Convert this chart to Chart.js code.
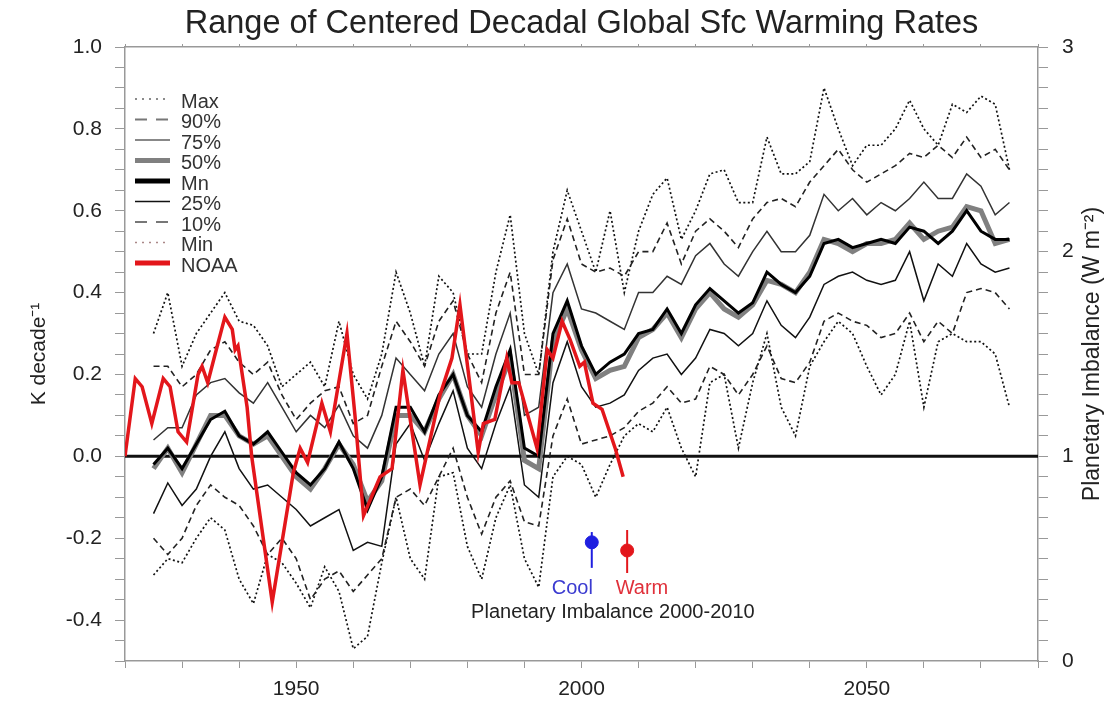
<!DOCTYPE html>
<html>
<head>
<meta charset="utf-8">
<script src="https://cdn.jsdelivr.net/npm/chart.js@4.4.0/dist/chart.umd.min.js"></script>
<style>
  body { margin: 0; background: #fff; }
  #wrap { width: 1110px; height: 711px; }
</style>
</head>
<body>
<div id="wrap"><canvas id="warmingChart" width="1110" height="711"></canvas></div>
<script>
// centre years of the decadal trends (model ensemble)
const modelYears = [
  1925, 1927.5, 1930, 1932.5, 1935, 1937.5, 1940, 1942.5, 1945, 1947.5,
  1950, 1952.5, 1955, 1957.5, 1960, 1962.5, 1965, 1967.5, 1970, 1972.5,
  1975, 1977.5, 1980, 1982.5, 1985, 1987.5, 1990, 1992.5, 1995, 1997.5,
  2000, 2002.5, 2005, 2007.5, 2010, 2012.5, 2015, 2017.5, 2020, 2022.5,
  2025, 2027.5, 2030, 2032.5, 2035, 2037.5, 2040, 2042.5, 2045, 2047.5,
  2050, 2052.5, 2055, 2057.5, 2060, 2062.5, 2065, 2067.5, 2070, 2072.5,
  2075
];

// K per decade
const maxVals = [
  0.30, 0.40, 0.22, 0.30, 0.35, 0.40, 0.33, 0.32, 0.27, 0.17,
  0.20, 0.23, 0.17, 0.33, 0.20, 0.14, 0.25, 0.45, 0.35, 0.22,
  0.44, 0.40, 0.25, 0.25, 0.45, 0.59, 0.30, 0.20, 0.50, 0.65,
  0.55, 0.45, 0.60, 0.40, 0.55, 0.64, 0.68, 0.53, 0.60, 0.69,
  0.70, 0.62, 0.62, 0.78, 0.69, 0.69, 0.72, 0.90, 0.80, 0.71,
  0.76, 0.76, 0.80, 0.87, 0.80, 0.76, 0.86, 0.84, 0.88, 0.86,
  0.70
];
const p90Vals = [
  0.22, 0.22, 0.17, 0.20, 0.26, 0.28, 0.23, 0.20, 0.23, 0.15,
  0.09, 0.13, 0.16, 0.17, 0.08, 0.10, 0.22, 0.33, 0.28, 0.22,
  0.33, 0.38, 0.25, 0.18, 0.35, 0.45, 0.20, 0.20, 0.48, 0.58,
  0.47, 0.45, 0.46, 0.44, 0.50, 0.50, 0.57, 0.47, 0.55, 0.58,
  0.55, 0.51, 0.58, 0.62, 0.63, 0.61, 0.67, 0.71, 0.75, 0.70,
  0.67, 0.69, 0.71, 0.74, 0.73, 0.76, 0.73, 0.78, 0.73, 0.75,
  0.70
];
const p75Vals = [
  0.04, 0.07, 0.07, 0.15, 0.18, 0.19, 0.155, 0.13, 0.18, 0.12,
  0.06, 0.10, 0.07, 0.125, 0.05, 0.02, 0.10, 0.24, 0.20, 0.16,
  0.25, 0.30, 0.17, 0.12, 0.25, 0.35, 0.10, 0.12, 0.40, 0.47,
  0.36, 0.35, 0.33, 0.31, 0.40, 0.40, 0.44, 0.42, 0.49, 0.52,
  0.47, 0.44, 0.50, 0.55, 0.50, 0.50, 0.54, 0.64, 0.60, 0.63,
  0.59, 0.62, 0.60, 0.63, 0.67, 0.63, 0.63, 0.69, 0.66, 0.59,
  0.62
];
const p50Vals = [
  -0.03, 0.02, -0.04, 0.03, 0.10, 0.10, 0.05, 0.03, 0.05, 0.00,
  -0.05, -0.08, -0.03, 0.03, -0.02, -0.11, -0.06, 0.10, 0.10, 0.06,
  0.14, 0.20, 0.10, 0.05, 0.15, 0.24, -0.01, -0.03, 0.28, 0.36,
  0.26, 0.19, 0.21, 0.22, 0.29, 0.31, 0.35, 0.29, 0.36, 0.40,
  0.36, 0.34, 0.37, 0.43, 0.42, 0.40, 0.45, 0.53, 0.52, 0.50,
  0.52, 0.52, 0.53, 0.57, 0.53, 0.55, 0.56, 0.61, 0.60, 0.52,
  0.53
];
const meanVals = [
  -0.02, 0.02, -0.03, 0.03, 0.09, 0.11, 0.05, 0.03, 0.06, 0.01,
  -0.04, -0.07, -0.03, 0.035, -0.03, -0.13, -0.05, 0.12, 0.12, 0.06,
  0.15, 0.20, 0.10, 0.06, 0.17, 0.26, 0.02, 0.00, 0.30, 0.38,
  0.27, 0.20, 0.23, 0.25, 0.30, 0.31, 0.36, 0.30, 0.37, 0.41,
  0.38, 0.35, 0.375, 0.45, 0.42, 0.40, 0.44, 0.52, 0.53, 0.51,
  0.52, 0.53, 0.52, 0.56, 0.55, 0.52, 0.55, 0.60, 0.55, 0.53,
  0.53
];
const p25Vals = [
  -0.14, -0.065, -0.12, -0.08, 0.00, 0.06, -0.03, -0.08, -0.07, -0.10,
  -0.13, -0.17, -0.15, -0.13, -0.23, -0.21, -0.22, 0.03, 0.08, -0.01,
  0.08, 0.16, 0.02, -0.03, 0.08, 0.17, -0.07, -0.10, 0.18, 0.28,
  0.17, 0.12, 0.13, 0.15, 0.21, 0.24, 0.25, 0.20, 0.24, 0.31,
  0.30, 0.27, 0.30, 0.38, 0.32, 0.29, 0.34, 0.42, 0.44, 0.45,
  0.43, 0.42, 0.43, 0.50, 0.38, 0.47, 0.44, 0.52, 0.47, 0.45,
  0.46
];
const p10Vals = [
  -0.20, -0.24, -0.20, -0.12, -0.07, -0.10, -0.12, -0.17, -0.24, -0.20,
  -0.25, -0.35, -0.30, -0.28, -0.33, -0.29, -0.25, -0.10, -0.08, -0.12,
  -0.05, 0.02, -0.10, -0.19, -0.10, -0.06, -0.16, -0.17, 0.05, 0.14,
  0.03, 0.04, 0.05, 0.07, 0.11, 0.13, 0.17, 0.13, 0.14, 0.22,
  0.20, 0.15, 0.20, 0.27, 0.19, 0.18, 0.23, 0.33, 0.35, 0.33,
  0.32, 0.29, 0.30, 0.35, 0.28, 0.33, 0.30, 0.40, 0.41, 0.40,
  0.36
];
const minVals = [
  -0.29, -0.25, -0.26, -0.20, -0.15, -0.18, -0.30, -0.36, -0.24, -0.26,
  -0.31, -0.37, -0.27, -0.33, -0.47, -0.44, -0.26, -0.10, -0.25, -0.30,
  -0.05, -0.04, -0.22, -0.30, -0.15, -0.07, -0.25, -0.32, -0.05, 0.00,
  -0.02, -0.10, -0.02, 0.05, 0.08, 0.06, 0.12, 0.02, -0.05, 0.18,
  0.20, 0.02, 0.18, 0.30, 0.12, 0.05, 0.22, 0.28, 0.33, 0.30,
  0.22, 0.15, 0.20, 0.33, 0.12, 0.28, 0.30, 0.28, 0.28, 0.25,
  0.12
];

// NOAA observed decadal rate
const noaaYears = [
  1920, 1921.8, 1923, 1924.7, 1926.7, 1927.9, 1929.3, 1930.8, 1932.8, 1933.5,
  1934.5, 1935.8, 1937.5, 1938.8, 1939.3, 1939.8, 1941.4, 1942.2, 1945.8, 1949.5,
  1950.7, 1952, 1954.5, 1956, 1958.9, 1960.3, 1961.8, 1964.7, 1966.8, 1968.7,
  1971.7, 1975.2, 1977.3, 1978.7, 1981.9, 1982.8, 1984.8, 1986.9, 1987.8, 1989,
  1992.2, 1994, 1995, 1996.6, 1998, 1999.7, 2000.5, 2002, 2003.6, 2005.9,
  2007.3
];
const noaaVals = [
  0.00, 0.19, 0.17, 0.08, 0.19, 0.17, 0.06, 0.035, 0.20, 0.22,
  0.18, 0.25, 0.34, 0.31, 0.26, 0.27, 0.12, 0.00, -0.356, -0.04,
  0.02, -0.015, 0.13, 0.06, 0.30, 0.10, -0.145, -0.05, -0.03, 0.21,
  -0.07, 0.15, 0.24, 0.37, 0.01, 0.08, 0.09, 0.24, 0.18, 0.18,
  0.02, 0.26, 0.24, 0.33, 0.285, 0.22, 0.23, 0.13, 0.115, 0.02,
  -0.05
];

// planetary imbalance 2000-2010, W m-2 (right axis)
const imbalanceNames = ["Cool", "Warm"];
const imbalanceYears = [2001.8, 2008.0];
const imbalanceVals = [0.58, 0.54];
const imbalanceLow = [0.455, 0.43];
const imbalanceHigh = [0.63, 0.64];

const xLabelYears = [1950, 2000, 2050];

const FONT = '"Liberation Sans", Arial, Helvetica, sans-serif';
Chart.defaults.font.family = FONT;
Chart.defaults.color = "#222";

function pts(xs, ys) {
  return xs.map((x, i) => ({ x: x, y: ys[i] }));
}

function model(label, ys, style) {
  return Object.assign(
    { label: label, data: pts(modelYears, ys), pointRadius: 0, tension: 0, fill: false },
    style
  );
}

const dotted = [2, 2.5];
const dashed = [6, 4];

const datasets = [
  { label: "NOAA", data: pts(noaaYears, noaaVals), borderColor: "#e3161b", borderWidth: 3.5,
    pointRadius: 0, tension: 0, order: 0, legendWidth: 5 },
  model("Mn", meanVals, { borderColor: "#000", borderWidth: 3, order: 1, legendWidth: 5 }),
  model("50%", p50Vals, { borderColor: "#808080", borderWidth: 5, order: 2, legendWidth: 5 }),
  model("75%", p75Vals, { borderColor: "#333", borderWidth: 1.5, order: 3, legendWidth: 2, legendColor: "#888" }),
  model("25%", p25Vals, { borderColor: "#111", borderWidth: 1.5, order: 3, legendWidth: 1.5 }),
  model("90%", p90Vals, { borderColor: "#222", borderWidth: 1.6, borderDash: dashed, order: 4,
    legendWidth: 2, legendColor: "#777", legendDash: [12, 9] }),
  model("10%", p10Vals, { borderColor: "#222", borderWidth: 1.6, borderDash: dashed, order: 4,
    legendWidth: 2, legendColor: "#777", legendDash: [12, 9] }),
  model("Max", maxVals, { borderColor: "#111", borderWidth: 1.7, borderDash: dotted, order: 5,
    legendWidth: 1.5, legendColor: "#666", legendDash: [2, 5] }),
  model("Min", minVals, { borderColor: "#111", borderWidth: 1.7, borderDash: dotted, order: 5,
    legendWidth: 1.5, legendColor: "#a88", legendDash: [2, 5] }),
  { label: "zero", data: [{ x: 1920, y: 0 }, { x: 2080, y: 0 }], borderColor: "#111",
    borderWidth: 3, pointRadius: 0, order: 6 }
];

const imbalanceColors = ["#1f1fe0", "#e3161b"];
imbalanceNames.forEach((name, i) => {
  datasets.push({
    label: name + " range", yAxisID: "y2", order: 0,
    data: [{ x: imbalanceYears[i], y: imbalanceLow[i] }, { x: imbalanceYears[i], y: imbalanceHigh[i] }],
    borderColor: imbalanceColors[i], borderWidth: 2, pointRadius: 0
  });
  datasets.push({
    label: name, yAxisID: "y2", order: 0, showLine: false,
    data: [{ x: imbalanceYears[i], y: imbalanceVals[i] }],
    pointRadius: 6.5, pointBackgroundColor: imbalanceColors[i], pointBorderColor: imbalanceColors[i]
  });
});

const legendOrder = ["Max", "90%", "75%", "50%", "Mn", "25%", "10%", "Min", "NOAA"];

const overlay = {
  id: "overlay",
  afterDatasetsDraw(chart) {
    const ctx = chart.ctx;
    const xs = chart.scales.x, y2 = chart.scales.y2;
    ctx.save();

    // legend, top left of the plot
    ctx.font = "20px " + FONT;
    ctx.textAlign = "left";
    ctx.textBaseline = "middle";
    legendOrder.forEach((name, i) => {
      const ds = chart.data.datasets.find((d) => d.label === name);
      const yy = 102 + i * 20.5;
      ctx.strokeStyle = ds.legendColor || ds.borderColor;
      ctx.lineWidth = ds.legendWidth || ds.borderWidth;
      ctx.setLineDash(ds.legendDash || []);
      ctx.beginPath();
      ctx.moveTo(135, yy - 3);
      ctx.lineTo(170, yy - 3);
      ctx.stroke();
      ctx.fillStyle = "#333";
      ctx.fillText(name, 181, yy);
    });
    ctx.setLineDash([]);

    // imbalance annotation
    ctx.textAlign = "center";
    ctx.fillStyle = "#3a3ad0";
    ctx.fillText("Cool", xs.getPixelForValue(1998.4), y2.getPixelForValue(0.355));
    ctx.fillStyle = "#e0303a";
    ctx.fillText("Warm", xs.getPixelForValue(2010.6), y2.getPixelForValue(0.355));
    ctx.fillStyle = "#222";
    ctx.fillText("Planetary Imbalance 2000-2010", xs.getPixelForValue(2005.5), y2.getPixelForValue(0.235));

    // right axis title, reading bottom to top
    ctx.translate(1093, 354);
    ctx.rotate(-Math.PI / 2);
    ctx.font = "23px " + FONT;
    ctx.fillText("Planetary Imbalance (W m\u207B\u00B2)", 0, 0);
    ctx.restore();
  }
};

const near = (v, step) => Math.abs(v / step - Math.round(v / step)) < 1e-6;
const axisGray = "#999";

new Chart(document.getElementById("warmingChart"), {
  type: "line",
  data: { datasets: datasets },
  options: {
    responsive: false,
    animation: false,
    devicePixelRatio: 1,
    layout: { padding: 0 },
    plugins: {
      legend: { display: false },
      tooltip: { enabled: false },
      title: {
        display: true,
        fullSize: false,
        text: "Range of Centered Decadal Global Sfc Warming Rates",
        font: { size: 32.5, weight: "normal" },
        color: "#222",
        padding: { top: 5, bottom: 0 }
      }
    },
    scales: {
      x: {
        type: "linear", position: "bottom", min: 1920, max: 2080,
        afterFit: (s) => { s.height = 50; },
        border: { color: axisGray, width: 1.5 },
        grid: { drawOnChartArea: false, tickLength: 7, color: axisGray },
        ticks: {
          stepSize: 10, autoSkip: false, maxRotation: 0, padding: 9, color: "#222",
          font: { size: 21 },
          callback: (v) => (xLabelYears.includes(v) ? String(v) : "")
        }
      },
      xTop: {
        type: "linear", position: "top", min: 1920, max: 2080,
        afterFit: (s) => { s.height = 3; },
        border: { color: axisGray, width: 1.5 },
        grid: { drawOnChartArea: false, tickLength: 3, color: axisGray },
        ticks: { stepSize: 10, autoSkip: false, display: false }
      },
      y: {
        type: "linear", position: "left", min: -0.5, max: 1.0,
        afterFit: (s) => { s.width = 125; },
        border: { color: axisGray, width: 1.5 },
        grid: { drawOnChartArea: false, tickLength: 10, color: axisGray },
        title: {
          display: true, text: "K decade\u207B\u00B9", font: { size: 21 }, color: "#222",
          padding: { top: 27, bottom: 0 }
        },
        ticks: {
          stepSize: 0.05, autoSkip: false, padding: 13, color: "#222", font: { size: 21 },
          callback: (v) => (near(v, 0.2) ? v.toFixed(1) : "")
        }
      },
      y2: {
        type: "linear", position: "right", min: 0, max: 3,
        afterFit: (s) => { s.width = 72; },
        border: { color: axisGray, width: 1.5 },
        grid: { drawOnChartArea: false, tickLength: 10, color: axisGray },
        ticks: {
          stepSize: 0.1, autoSkip: false, padding: 14, color: "#222", font: { size: 21 },
          callback: (v) => (near(v, 1) ? String(Math.round(v)) : "")
        }
      }
    }
  },
  plugins: [overlay]
});
</script>
</body>
</html>
